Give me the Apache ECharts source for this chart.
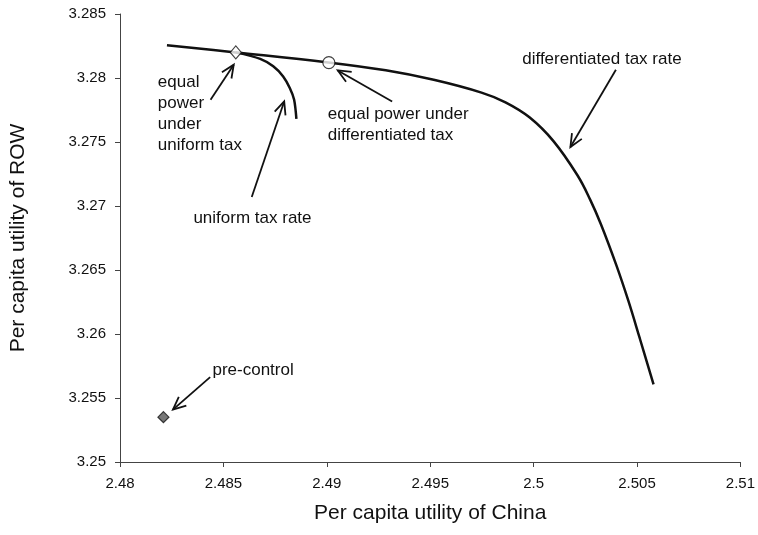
<!DOCTYPE html>
<html>
<head>
<meta charset="utf-8">
<script src="https://cdn.jsdelivr.net/npm/echarts@6/dist/echarts.min.js"></script>
<style>html,body{margin:0;padding:0;background:#fff}#c{width:758px;height:535px}</style>
</head>
<body>
<div id="c"></div>
<script>
// ---- data ----
var xTickLabels = ['2.48','2.485','2.49','2.495','2.5','2.505','2.51'];
var yTickLabels = ['3.25','3.255','3.26','3.265','3.27','3.275','3.28','3.285'];

var differentiatedX = [2.48227, 2.4856, 2.49007, 2.49285, 2.49517, 2.49748, 2.49864, 2.49980, 2.50096, 2.50212, 2.50274, 2.50326, 2.50400, 2.50458, 2.50514, 2.50580];
var differentiatedY = [3.28255, 3.28200, 3.28122, 3.28060, 3.27986, 3.27886, 3.27810, 3.27693, 3.27507, 3.27240, 3.27048, 3.26856, 3.26538, 3.26260, 3.25963, 3.25607];

var uniformX = [2.4856, 2.48678, 2.48741, 2.48789, 2.48821, 2.48842, 2.48853];
var uniformY = [3.28200, 3.28149, 3.28091, 3.28012, 3.27922, 3.27830, 3.27680];

var equalUniform = [2.4856, 3.2820];
var equalDifferentiated = [2.4901, 3.2812];
var preControl = [2.4821, 3.2535];

// annotations (data coordinates)
var annoTexts = ['equal\npower\nunder\nuniform tax', 'equal power under\ndifferentiated tax', 'uniform tax rate', 'differentiated tax rate', 'pre-control'];
var annoTextX = [2.48183, 2.49005, 2.48355, 2.49945, 2.48447];
var annoTextY = [3.27719, 3.27632, 3.26906, 3.28148, 3.25719];
// arrows: tail -> head
var arrowTail = [[2.48438, 3.27830], [2.49316, 3.27817], [2.48637, 3.27070], [2.50398, 3.28065], [2.48436, 3.25663]];
var arrowHead = [[2.48550, 3.28104], [2.49053, 3.28059], [2.48794, 3.27817], [2.50178, 3.27461], [2.48256, 3.25409]];

// ---- build ----
function zip(a, b) { return a.map(function (v, i) { return [v, b[i]]; }); }
function fmt(labels) {
  return function (v) {
    for (var i = 0; i < labels.length; i++) {
      if (Math.abs(parseFloat(labels[i]) - v) < 1e-6) return labels[i];
    }
    return '';
  };
}
var font = '"Liberation Sans", Arial, sans-serif';
var chart = echarts.init(document.getElementById('c'));
var arrowData = arrowTail.map(function (t, i) { return [t[0], t[1], arrowHead[i][0], arrowHead[i][1]]; });
var textData = annoTexts.map(function (t, i) { return [annoTextX[i], annoTextY[i], i]; });

chart.setOption({
  animation: false,
  backgroundColor: '#fff',
  grid: { left: 118, right: 13, top: 14, bottom: 73 },
  xAxis: {
    type: 'value', min: 2.48, max: 2.51, interval: 0.005,
    name: 'Per capita utility of China', nameLocation: 'middle', nameGap: 41,
    nameTextStyle: { fontSize: 21, color: '#111', fontFamily: font },
    axisLine: { lineStyle: { color: '#444', width: 1 } },
    axisTick: { show: true, length: 5, lineStyle: { color: '#444' } },
    axisLabel: { fontSize: 15, color: '#111', fontFamily: font, margin: 14, formatter: fmt(xTickLabels) },
    splitLine: { show: false }
  },
  yAxis: {
    type: 'value', min: 3.25, max: 3.285, interval: 0.005,
    name: 'Per capita utility of ROW', nameLocation: 'middle', nameGap: 91,
    nameTextStyle: { fontSize: 21, color: '#111', fontFamily: font },
    axisLine: { show: true, lineStyle: { color: '#444', width: 1 } },
    axisTick: { show: true, length: 5, lineStyle: { color: '#444' } },
    axisLabel: { fontSize: 15, color: '#111', fontFamily: font, margin: 14, formatter: fmt(yTickLabels) },
    splitLine: { show: false }
  },
  series: [
    {
      type: 'line', data: zip(differentiatedX, differentiatedY), smooth: 0.4,
      showSymbol: false, lineStyle: { color: '#111', width: 2.5 }
    },
    {
      type: 'line', data: zip(uniformX, uniformY), smooth: 0.3,
      showSymbol: false, lineStyle: { color: '#111', width: 2.5 }
    },
    {
      type: 'scatter', data: [equalUniform], symbol: 'diamond', symbolSize: [11, 13],
      itemStyle: { color: '#fff', borderColor: '#111', borderWidth: 1.2 }, z: 5
    },
    {
      type: 'scatter', data: [equalDifferentiated], symbol: 'circle', symbolSize: 12,
      itemStyle: { color: '#fff', borderColor: '#111', borderWidth: 1.2 }, z: 5
    },
    {
      type: 'scatter', data: [preControl], symbol: 'diamond', symbolSize: 11,
      itemStyle: { color: '#555', borderColor: '#111', borderWidth: 1.2 }, z: 5
    },
    {
      type: 'custom', data: arrowData, z: 6,
      renderItem: function (params, api) {
        var p1 = api.coord([api.value(0), api.value(1)]);
        var p2 = api.coord([api.value(2), api.value(3)]);
        var ang = Math.atan2(p2[1] - p1[1], p2[0] - p1[0]);
        var L = 14, s = 0.42;
        var h1 = [p2[0] - L * Math.cos(ang - s), p2[1] - L * Math.sin(ang - s)];
        var h2 = [p2[0] - L * Math.cos(ang + s), p2[1] - L * Math.sin(ang + s)];
        var st = { stroke: '#111', lineWidth: 1.8, fill: null };
        return {
          type: 'group', children: [
            { type: 'polyline', shape: { points: [p1, p2] }, style: st },
            { type: 'polyline', shape: { points: [h1, p2, h2] }, style: st }
          ]
        };
      }
    },
    {
      type: 'custom', data: textData, z: 6,
      renderItem: function (params, api) {
        var p = api.coord([api.value(0), api.value(1)]);
        return {
          type: 'text', x: p[0], y: p[1],
          style: {
            text: annoTexts[api.value(2)], fill: '#111',
            font: '17px ' + font, textAlign: 'left', textVerticalAlign: 'middle', lineHeight: 21
          }
        };
      }
    }
  ]
});
</script>
</body>
</html>
